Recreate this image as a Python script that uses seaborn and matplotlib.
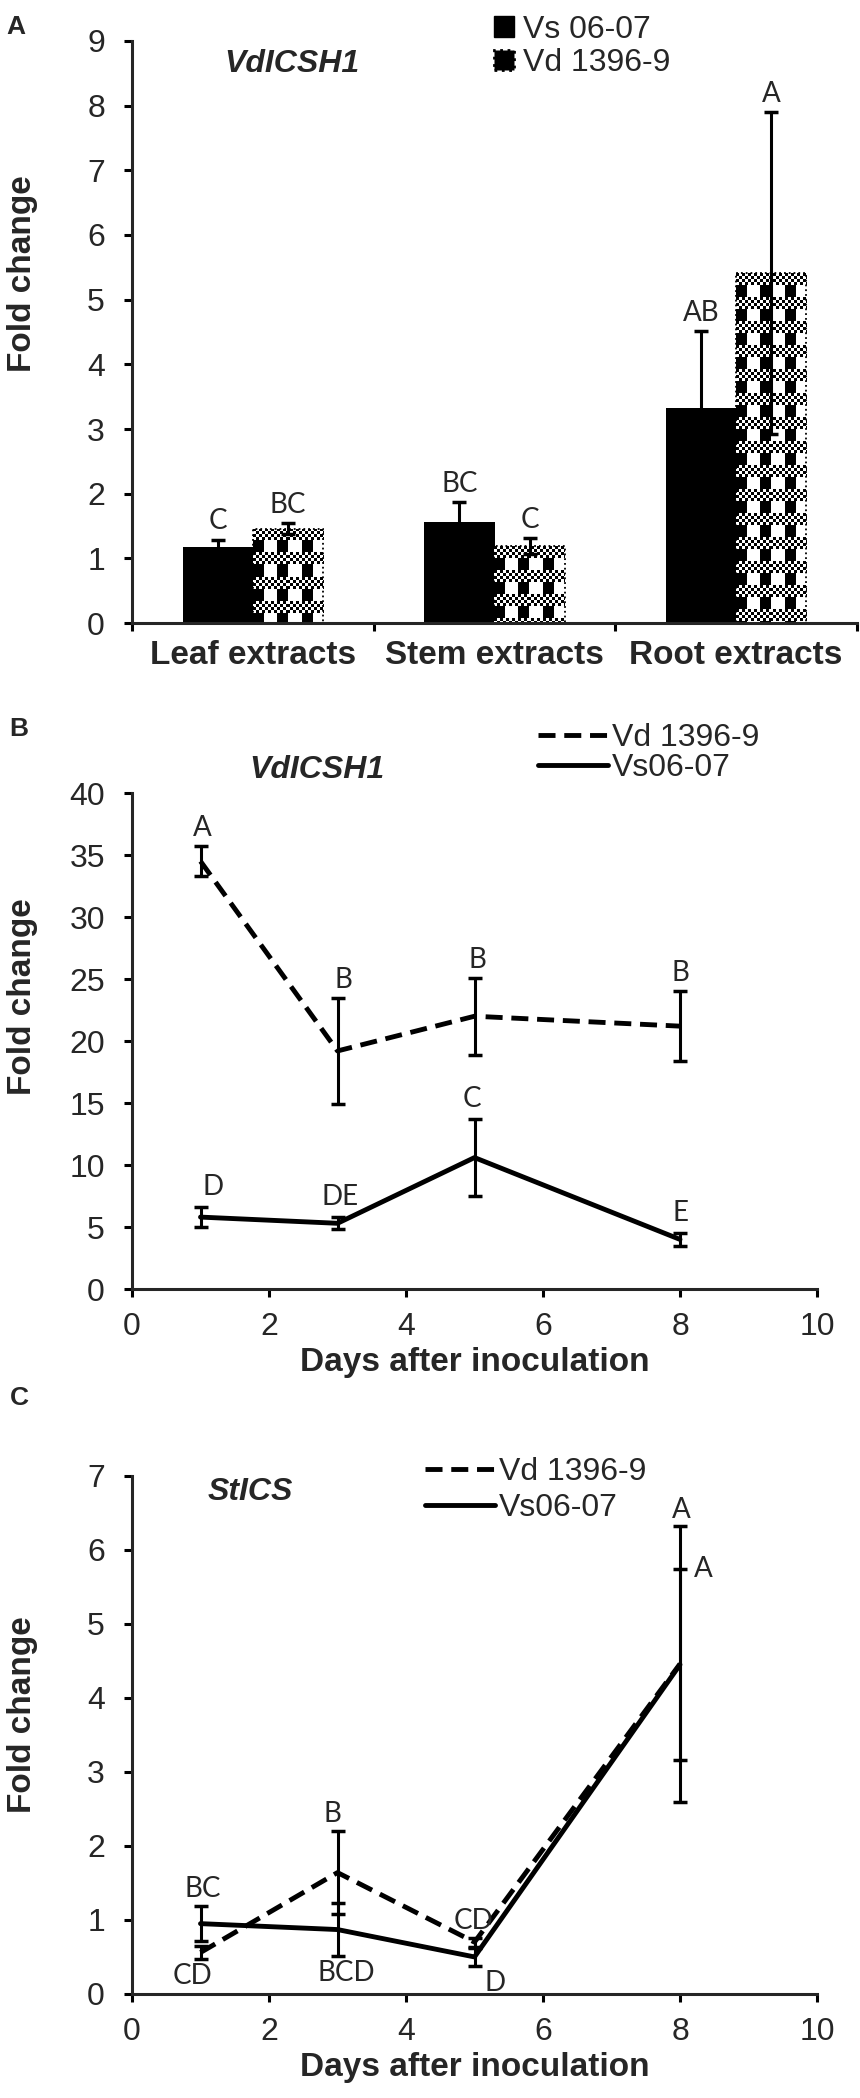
import numpy as np
import pandas as pd
import matplotlib
matplotlib.use("Agg")
import matplotlib.pyplot as plt
from matplotlib.patches import Rectangle, Patch
from matplotlib.lines import Line2D
import seaborn as sns

# ---------------- data ----------------
# Panel A: VdICSH1 in tissue extracts
tissues = ['Leaf extracts', 'Stem extracts', 'Root extracts']
strains_a = ['Vs 06-07', 'Vd 1396-9']
vs_a = [1.17, 1.56, 3.32]
vs_a_err = [0.12, 0.31, 1.20]
vd_a = [1.46, 1.19, 5.41]
vd_a_err = [0.08, 0.12, 2.49]
vs_a_letters = ['C', 'BC', 'AB']
vd_a_letters = ['BC', 'C', 'A']

# Panel B: VdICSH1 time course
days = [1, 3, 5, 8]
vd_b = [34.5, 19.2, 22.0, 21.2]
vd_b_err = [1.2, 4.3, 3.1, 2.8]
vs_b = [5.8, 5.3, 10.6, 4.0]
vs_b_err = [0.8, 0.5, 3.1, 0.5]
vd_b_letters = ['A', 'B', 'B', 'B']
vs_b_letters = ['D', 'DE', 'C', 'E']

# Panel C: StICS time course
vd_c = [0.56, 1.64, 0.70, 4.46]
vd_c_err = [0.09, 0.56, 0.06, 1.86]
vs_c = [0.95, 0.87, 0.50, 4.45]
vs_c_err = [0.24, 0.36, 0.12, 1.29]
vd_c_letters = ['CD', 'B', 'CD', 'A']
vs_c_letters = ['BC', 'BCD', 'D', 'A']

# ---------------- style ----------------
sns.set_style('ticks')
plt.rcParams['font.family'] = ['Liberation Sans', 'DejaVu Sans']
plt.rcParams['axes.linewidth'] = 2.2
LETTER_FONT = ['Lato', 'DejaVu Sans']
LETTER_FS = 20
TICK_FS = 23
LAB_FS = 24

fig = plt.figure(figsize=(8.6, 20.98), dpi=100)
axA = fig.add_axes([0.1535, 0.703, 0.843, 0.2775])
axB = fig.add_axes([0.1535, 0.3856, 0.7965, 0.2364])
axC = fig.add_axes([0.1535, 0.0496, 0.7965, 0.2469])


def style_axes(ax):
    sns.despine(ax=ax)
    ax.tick_params(axis='both', which='major', direction='out', length=5.5,
                   width=2.2, labelsize=TICK_FS, color='black')
    ax.tick_params(axis='y', pad=14)
    ax.tick_params(axis='x', pad=11)


# pattern tile for the Vd bars (checker bands + black columns)
tile = np.ones((24, 24))
for r in range(12):
    for c in range(24):
        if ((r // 3) + (c // 3)) % 2 == 0:
            tile[r, c] = 0
tile[12:, 0:11] = 0


def fill_pattern(ax, patch):
    bb = patch.get_window_extent()
    w = max(int(round(bb.width)), 1)
    h = max(int(round(bb.height)), 1)
    img = np.tile(tile, (h // 24 + 2, w // 24 + 2))[:h, :w]
    x0, y0 = patch.get_x(), patch.get_y()
    x1, y1 = x0 + patch.get_width(), y0 + patch.get_height()
    im = ax.imshow(img, cmap='gray', vmin=0, vmax=1, extent=(x0, x1, y0, y1),
                   origin='upper', interpolation='nearest', aspect='auto', zorder=2.1)
    im.set_clip_path(patch)
    ax.add_patch(Rectangle((x0, y0), x1 - x0, y1 - y0, fill=False,
                           edgecolor='black', linestyle=':', linewidth=1.3, zorder=2.2))


def letter(ax, x, y, t, va):
    ax.text(x, y, t, ha='center', va=va, fontsize=LETTER_FS, family=LETTER_FONT)


# ---------------- panel A ----------------
dfA = pd.DataFrame({
    'tissue': tissues * 2,
    'strain': [strains_a[0]] * 3 + [strains_a[1]] * 3,
    'fold': vs_a + vd_a,
})
sns.barplot(data=dfA, x='tissue', y='fold', hue='strain', order=tissues,
            hue_order=strains_a, palette={strains_a[0]: 'black', strains_a[1]: 'white'},
            width=0.58, errorbar=None, legend=False, ax=axA, linewidth=0)
axA.set_xlim(-0.5, 2.5)
axA.set_ylim(0, 9)
axA.set_yticks(range(0, 10))

bars_vs = list(axA.containers[0])
bars_vd = list(axA.containers[1])
for p in bars_vd:
    fill_pattern(axA, p)

for bars, vals, errs, letters in [(bars_vs, vs_a, vs_a_err, vs_a_letters),
                                  (bars_vd, vd_a, vd_a_err, vd_a_letters)]:
    xs = [p.get_x() + p.get_width() / 2 for p in bars]
    axA.errorbar(xs, vals, yerr=errs, fmt='none', ecolor='black', elinewidth=2.2,
                 capsize=5, capthick=2.5, zorder=3)
    for x, v, e, t in zip(xs, vals, errs, letters):
        letter(axA, x, v + e + 0.08, t, 'bottom')

style_axes(axA)
axA.set_xticks([-0.5, 0.5, 1.5, 2.5])
axA.set_xticklabels([])
axA.set_xticks([0, 1, 2], minor=True)
axA.set_xticklabels(tissues, minor=True, fontsize=LAB_FS, fontweight='bold')
axA.tick_params(axis='x', which='minor', length=0, pad=12)
axA.set_xlabel('')
axA.set_ylabel('Fold change', fontsize=LAB_FS, fontweight='bold')
axA.yaxis.set_label_coords(-0.13, 0.60)
axA.text(0.22, 0.96, 'VdICSH1', transform=axA.transAxes, ha='center', va='center',
         fontsize=23, fontweight='bold', fontstyle='italic')
legA = [Patch(facecolor='black', edgecolor='black'),
        Patch(facecolor='black', edgecolor='black', linestyle=':', linewidth=2)]
axA.legend(legA, strains_a, loc='upper left', bbox_to_anchor=(0.5, 1.045),
           frameon=False, fontsize=23, handlelength=0.6, handleheight=0.6,
           handletextpad=0.3, labelspacing=0.1, borderpad=0, borderaxespad=0)


# ---------------- line panels ----------------
def line_panel(ax, vd, vd_err, vs, vs_err, ymax, ystep, gene, gene_xy, leg_xy, leg_sp):
    df = pd.DataFrame({
        'day': days * 2,
        'fold': vd + vs,
        'strain': ['Vd 1396-9'] * 4 + ['Vs06-07'] * 4,
    })
    sns.lineplot(data=df, x='day', y='fold', style='strain',
                 style_order=['Vd 1396-9', 'Vs06-07'],
                 dashes={'Vd 1396-9': (3.5, 1.8), 'Vs06-07': ''},
                 color='black', linewidth=3.5, errorbar=None, legend=False, ax=ax)
    ax.errorbar(days, vd, yerr=vd_err, fmt='none', ecolor='black', elinewidth=2.2,
                capsize=5, capthick=2.5, zorder=3)
    ax.errorbar(days, vs, yerr=vs_err, fmt='none', ecolor='black', elinewidth=2.2,
                capsize=5, capthick=2.5, zorder=3)
    ax.set_xlim(0, 10)
    ax.set_ylim(0, ymax)
    ax.set_xticks(range(0, 11, 2))
    ax.set_yticks(np.arange(0, ymax + 0.01, ystep))
    style_axes(ax)
    ax.set_xlabel('Days after inoculation', fontsize=LAB_FS, fontweight='bold', labelpad=4)
    ax.set_ylabel('Fold change', fontsize=LAB_FS, fontweight='bold')
    ax.text(gene_xy[0], gene_xy[1], gene, transform=ax.transAxes, ha='center',
            va='center', fontsize=23, fontweight='bold', fontstyle='italic')
    handles = [Line2D([], [], color='black', lw=3.5, dashes=(3.5, 1.8)),
               Line2D([], [], color='black', lw=3.5)]
    ax.legend(handles, ['Vd 1396-9', 'Vs06-07'], loc='upper left', bbox_to_anchor=leg_xy,
              frameon=False, fontsize=23, handlelength=2.2, handletextpad=0.1,
              labelspacing=leg_sp, borderpad=0, borderaxespad=0)


line_panel(axB, vd_b, vd_b_err, vs_b, vs_b_err, 40, 5, 'VdICSH1', (0.27, 1.046),
           (0.593, 1.141), 0.0)
axB.yaxis.set_label_coords(-0.137, 0.59)

# letters, panel B
b_dx_vd = [0.03, 0.08, 0.04, 0.0]
b_dx_vs = [0.18, 0.04, -0.04, 0.0]
for d, v, e, t, dx in zip(days, vd_b, vd_b_err, vd_b_letters, b_dx_vd):
    letter(axB, d + dx, v + e + 0.4, t, 'bottom')
for d, v, e, t, dx in zip(days, vs_b, vs_b_err, vs_b_letters, b_dx_vs):
    letter(axB, d + dx, v + e + 0.6, t, 'bottom')

line_panel(axC, vd_c, vd_c_err, vs_c, vs_c_err, 7, 1, 'StICS', (0.172, 0.969),
           (0.428, 1.037), 0.2)
axC.yaxis.set_label_coords(-0.137, 0.54)

# letters, panel C (placed at the top or bottom end of each error bar)
c_vd_pos = [(-0.12, 'low'), (-0.07, 'high'), (-0.02, 'high'), (0.02, 'high')]
c_vs_pos = [(0.03, 'high'), (0.13, 'low'), (0.30, 'low'), (0.34, 'mid')]
for d, v, e, t, (dx, where) in zip(days, vd_c, vd_c_err, vd_c_letters, c_vd_pos):
    if where == 'high':
        letter(axC, d + dx, v + e + 0.05, t, 'bottom')
    else:
        letter(axC, d + dx, v - e - 0.05, t, 'top')
for d, v, e, t, (dx, where) in zip(days, vs_c, vs_c_err, vs_c_letters, c_vs_pos):
    if where == 'high':
        letter(axC, d + dx, v + e + 0.05, t, 'bottom')
    elif where == 'low':
        letter(axC, d + dx, v - e - 0.05, t, 'top')
    else:
        letter(axC, d + dx, v + e, t, 'center')

# panel letters
fig.text(16 / 860, 1 - 27 / 2098, 'A', fontsize=19, fontweight='bold', ha='center', va='center')
fig.text(19 / 860, 1 - 729 / 2098, 'B', fontsize=19, fontweight='bold', ha='center', va='center')
fig.text(19 / 860, 1 - 1398 / 2098, 'C', fontsize=19, fontweight='bold', ha='center', va='center')

fig.savefig('out.png', dpi=100)
